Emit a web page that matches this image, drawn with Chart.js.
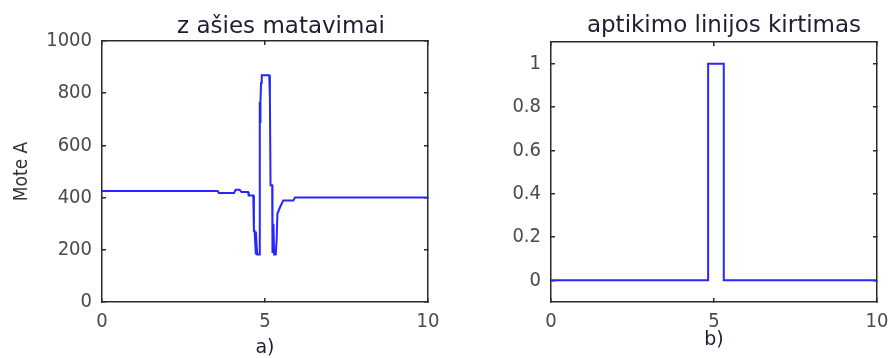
<!DOCTYPE html>
<html><head><meta charset="utf-8">
<script src="https://cdn.jsdelivr.net/npm/chart.js@4/dist/chart.umd.min.js"></script>
<style>
html,body{margin:0;padding:0;background:#fff;overflow:hidden;}
#wrap{position:relative;width:890px;height:358px;overflow:hidden;background:#fff;}
canvas{position:absolute;top:0;}
</style></head><body>
<div id="wrap">
<canvas id="ca" width="562" height="358" style="left:0px;width:562px;height:358px"></canvas>
<canvas id="cb" width="558" height="358" style="left:445px;width:558px;height:358px"></canvas>
</div>
<script>
// ---- data ----
const titleA = "z ašies matavimai";
const titleB = "aptikimo linijos kirtimas";
const yLabelA = "Mote A";
const xLabelA = "a)";
const xLabelB = "b)";

const timeA = [0, 3.55, 3.58, 4.05, 4.1, 4.22, 4.28, 4.48, 4.5, 4.64, 4.66, 4.68, 4.72, 4.72, 4.76, 4.78, 4.83, 4.84, 4.85, 4.86, 4.88, 4.9, 5.13, 5.15, 5.17, 5.22, 5.23, 5.26, 5.28, 5.33, 5.36, 5.38, 5.46, 5.56, 5.87, 5.92, 10];
const valuesA = [425, 425, 418, 418, 430, 430, 421, 421, 408, 408, 272, 272, 182, 270, 182, 182, 182, 766, 690, 766, 840, 869, 869, 786, 447, 447, 188, 300, 182, 182, 246, 338, 363, 389, 389, 400, 400];

const timeB = [0, 4.82, 4.82, 5.3, 5.3, 10];
const valuesB = [0, 0, 1, 1, 0, 0];

const xTicks = [0, 5, 10];
const yTicksA = [0, 200, 400, 600, 800, 1000];
const yTicksB = [0, 0.2, 0.4, 0.6, 0.8, 1];

// ---- styles ----
const LINE = 'rgb(38,38,255)';
const FRAME = '#2a2a2a';
const TICKFONT = {family: "'DejaVu Sans Condensed','Liberation Sans Narrow','DejaVu Sans',sans-serif", size: 20};
const TICKCOLOR = '#4a4a4a';
const TITLEFONT = {family: "'DejaVu Sans','Open Sans',sans-serif", size: 23, weight: 'normal', lineHeight: 1};

function setTicks(vals) {
  return s => { s.ticks = vals.map(v => ({value: v})); };
}
function gridOpts() {
  return {drawOnChartArea: false, drawTicks: true, tickLength: -4, color: FRAME, lineWidth: 1.5};
}
function borderOpts() { return {display: true, color: FRAME, width: 1.5}; }

function makeChart(id, cfg) {
  const xs = cfg.xs, ys = cfg.ys;
  const pts = xs.map((t, i) => ({x: t, y: ys[i]}));
  return new Chart(document.getElementById(id), {
    type: 'scatter',
    data: {datasets: [{data: pts, showLine: true, borderColor: LINE, borderWidth: 2, pointRadius: 0, fill: false, tension: 0}]},
    options: {
      responsive: false, animation: false, events: [],
      layout: {padding: 0},
      plugins: {
        legend: {display: false}, tooltip: {enabled: false},
        title: {display: true, text: cfg.title, font: TITLEFONT, color: '#1e1e32', fullSize: true,
                padding: {top: cfg.titleTop, bottom: cfg.titleBottom}}
      },
      scales: {
        x: {type: 'linear', position: 'bottom', min: 0, max: 10,
            afterBuildTicks: setTicks(xTicks),
            ticks: {font: TICKFONT, color: TICKCOLOR, padding: 12, maxRotation: 0, autoSkip: false},
            grid: gridOpts(), border: borderOpts(),
            title: {display: true, text: cfg.xLabel, font: {family: "'DejaVu Sans',sans-serif", size: 19, lineHeight: 1}, color: '#1e1e32', padding: {top: 0, bottom: cfg.xTitlePad}},
            afterFit: s => { s.height = cfg.bottomH; }},
        x2: {type: 'linear', position: 'top', min: 0, max: 10,
            afterBuildTicks: setTicks(xTicks),
            ticks: {display: false}, grid: gridOpts(), border: borderOpts(),
            afterFit: s => { s.height = 0; }},
        y: {type: 'linear', position: 'left', min: cfg.ymin, max: cfg.ymax,
            afterBuildTicks: setTicks(cfg.yTicks),
            ticks: {font: TICKFONT, color: TICKCOLOR, padding: 14, autoSkip: false, callback: v => String(v)},
            grid: gridOpts(), border: borderOpts(),
            title: {display: !!cfg.yLabel, text: cfg.yLabel || '', font: {family: TICKFONT.family, size: 19, lineHeight: 1}, color: '#333', padding: {top: 13, bottom: 0}},
            afterFit: s => { s.width = cfg.leftW; }},
        y2: {type: 'linear', position: 'right', min: cfg.ymin, max: cfg.ymax,
            afterBuildTicks: setTicks(cfg.yTicks),
            ticks: {display: false}, grid: gridOpts(), border: borderOpts(),
            afterFit: s => { s.width = cfg.rightW; }}
      }
    }
  });
}

makeChart('ca', {xs: timeA, ys: valuesA, title: titleA, xLabel: xLabelA, yLabel: yLabelA,
  ymin: 0, ymax: 1000, yTicks: yTicksA, leftW: 102, rightW: 134, bottomH: 56,
  titleTop: 16, titleBottom: 2, xTitlePad: 0});
makeChart('cb', {xs: timeB, ys: valuesB, title: titleB, xLabel: xLabelB, yLabel: null,
  ymin: -0.1, ymax: 1.1, yTicks: yTicksB, leftW: 106, rightW: 126, bottomH: 56,
  titleTop: 15, titleBottom: 4, xTitlePad: 8});
</script>
</body></html>
